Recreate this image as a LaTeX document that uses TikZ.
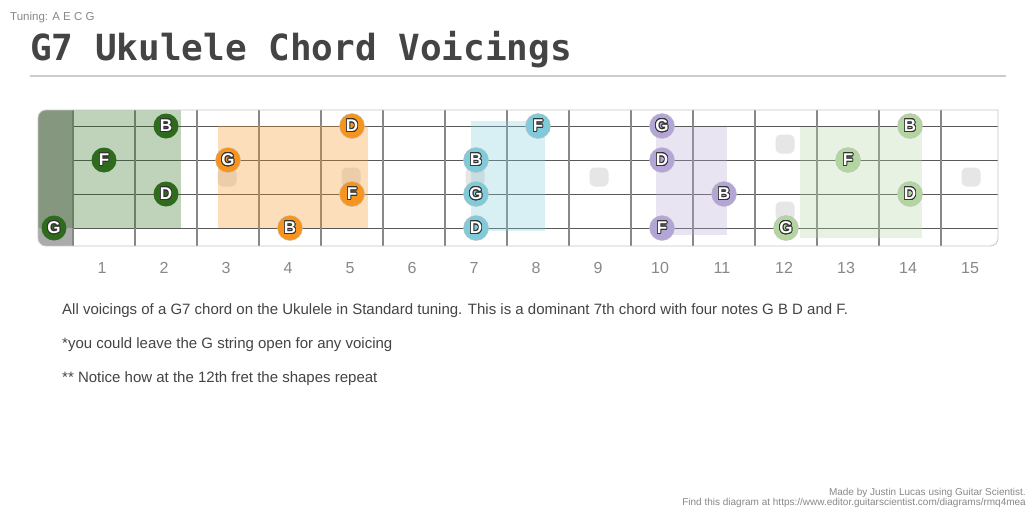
\documentclass[tikz,border=0pt]{standalone}
\usepackage{fontspec}
\setmainfont{Liberation Sans}
\newfontfamily\titlefont{DejaVu Sans Mono}
\usepackage[copies]{contour}
\contourlength{0.8pt}
\contournumber{24}
\definecolor{txt}{HTML}{444444}
\definecolor{gry}{HTML}{888888}
\definecolor{cdg}{HTML}{2E6B1C}
\definecolor{cor}{HTML}{F7941D}
\definecolor{ccy}{HTML}{7FCBD9}
\definecolor{cpu}{HTML}{B3A6D6}
\definecolor{clg}{HTML}{B3D6A0}
\definecolor{inl}{HTML}{E6E6E6}
\definecolor{outl}{HTML}{333333}
\tikzset{
  note/.style={circle,fill=#1,draw=black!25,line width=0.4pt,minimum size=25pt,inner sep=0pt,text=white,font=\fontsize{17}{17}\selectfont\bfseries},
  dnote/.style={circle,fill=#1,minimum size=25pt,inner sep=0pt,text=white,font=\fontsize{17}{17}\selectfont\bfseries},
  shade/.style={fill=#1,opacity=0.3},
  inlay/.style={fill=inl,rounded corners=5pt},
  fretline/.style={draw=gry,line width=2.4pt},
  stringline/.style={draw=black!65,line width=1pt},
  fretnum/.style={text=gry,font=\fontsize{16}{16}\selectfont,anchor=center},
  body/.style={text=txt,font=\fontsize{15}{15}\selectfont,anchor=base west,inner sep=0pt},
  foot/.style={text=gry,font=\fontsize{10}{10}\selectfont,anchor=base east,inner sep=0pt}
}
\newcommand{\nl}[1]{\contour{outl}{#1}}
\begin{document}
\begin{tikzpicture}[x=1pt,y=-1pt]
\useasboundingbox (0,0) rectangle (1036,517);
\fill[white] (0,0) rectangle (1036,517);
% header
\node[text=gry,font=\fontsize{11.5}{11.5}\selectfont,anchor=base west,inner sep=0pt] (tuning) at (10,20) {Tuning: A E C G};
\node[text=txt,font=\fontsize{36}{36}\selectfont\titlefont\bfseries,anchor=base west,inner sep=0pt] (title) at (30,60) {G7 Ukulele Chord Voicings};
\draw[draw=black!20,line width=2pt] (30,76) -- (1006,76);
% fretboard
\begin{scope}
\clip[rounded corners=8pt] (998,110) -- (38,110) -- (38,246) -- (998,246) [sharp corners] -- cycle;
\fill[white] (38,110) rectangle (998,246);
\fill[black!33] (38,110) rectangle (73,246);
% inlays
\fill[inlay] (217.5,167.5) rectangle ++(19,19);
\fill[inlay] (341.5,167.5) rectangle ++(19,19);
\fill[inlay] (465.5,167.5) rectangle ++(19,19);
\fill[inlay] (589.5,167.5) rectangle ++(19,19);
\fill[inlay] (775.5,134.5) rectangle ++(19,19);
\fill[inlay] (775.5,201.5) rectangle ++(19,19);
\fill[inlay] (961.5,167.5) rectangle ++(19,19);
% strings
\foreach \y in {126,160,194,228} \draw[stringline] (73,\y) -- (998,\y);
% frets
\foreach \n in {0,...,14} \draw[fretline] (73+62*\n,110) -- (73+62*\n,246);
% shapes
\fill[shade=cdg] (38,110) rectangle (181,228);
\fill[shade=cor] (218,126) rectangle (368,228);
\fill[shade=ccy] (471,121) rectangle (545,231);
\fill[shade=cpu] (656,127) rectangle (727,235);
\fill[shade=clg] (800,127) rectangle (922,238);
\end{scope}
\draw[draw=black!22,line width=0.8pt,rounded corners=8pt] (998,110) -- (38,110) -- (38,246) -- (998,246) [sharp corners] -- cycle;
% notes: dark green
\node[dnote=cdg] (g0) at (54,228) {\nl{G}};
\node[dnote=cdg] (f1) at (104,160) {\nl{F}};
\node[dnote=cdg] (b2) at (166,126) {\nl{B}};
\node[dnote=cdg] (d2) at (166,194) {\nl{D}};
% orange
\node[note=cor] (d5) at (352,126) {\nl{D}};
\node[note=cor] (g3) at (228,160) {\nl{G}};
\node[note=cor] (f5) at (352,194) {\nl{F}};
\node[note=cor] (b4) at (290,228) {\nl{B}};
% cyan
\node[note=ccy] (f8) at (538,126) {\nl{F}};
\node[note=ccy] (b7) at (476,160) {\nl{B}};
\node[note=ccy] (g7) at (476,194) {\nl{G}};
\node[note=ccy] (d7) at (476,228) {\nl{D}};
% purple
\node[note=cpu] (g10) at (662,126) {\nl{G}};
\node[note=cpu] (d10) at (662,160) {\nl{D}};
\node[note=cpu] (b11) at (724,194) {\nl{B}};
\node[note=cpu] (f10) at (662,228) {\nl{F}};
% light green
\node[note=clg] (b14) at (910,126) {\nl{B}};
\node[note=clg] (f13) at (848,160) {\nl{F}};
\node[note=clg] (d14) at (910,194) {\nl{D}};
\node[note=clg] (g12) at (786,228) {\nl{G}};
% fret numbers
\foreach \n in {1,...,15} \node[fretnum] (fn\n) at (40+62*\n,268) {\n};
% text
\node[body] (t1) at (62,314) {All voicings of a G7 chord on the Ukulele in Standard tuning. This is a dominant 7th chord with four notes G B D and F.};
\node[body] (t2) at (62,348) {*you could leave the G string open for any voicing};
\node[body] (t3) at (62,382) {** Notice how at the 12th fret the shapes repeat};
\node[foot] (ft1) at (1026,495) {Made by Justin Lucas using Guitar Scientist.};
\node[foot] (ft2) at (1026,505) {Find this diagram at https://www.editor.guitarscientist.com/diagrams/rmq4mea};
\end{tikzpicture}
\end{document}
